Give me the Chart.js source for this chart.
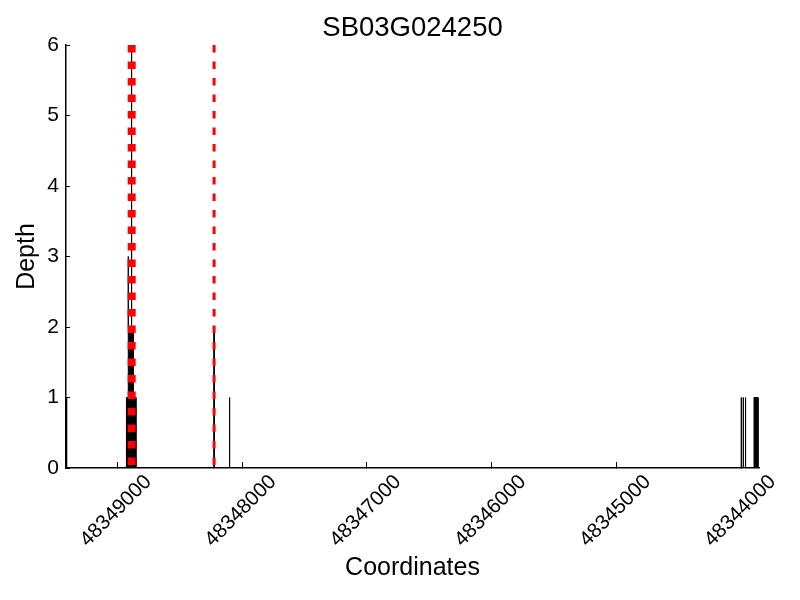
<!DOCTYPE html>
<html>
<head>
<meta charset="utf-8">
<script src="https://cdn.jsdelivr.net/npm/chart.js@4"></script>
<style>
  html, body { margin: 0; padding: 0; background: #fff; }
</style>
</head>
<body>
<canvas id="c" width="800" height="600"></canvas>
<script>
// ---- data ----
const chartTitle = "SB03G024250";
const xTitle = "Coordinates";
const yTitle = "Depth";
const xTickValues = [48349000, 48348000, 48347000, 48346000, 48345000, 48344000];
const yTickValues = [0, 1, 2, 3, 4, 5, 6];
const xRangeMax = 48349410;
const xRangeMin = 48343860;
// coverage runs: start coordinate, end coordinate, depth
const runStart = [48349410, 48348926, 48348912, 48348911, 48348886, 48348884, 48348872, 48348226, 48348101, 48344003, 48343987, 48343969, 48343900];
const runEnd   = [48349402, 48348912, 48348911, 48348886, 48348884, 48348872, 48348850, 48348222, 48348099, 48344001, 48343985, 48343967, 48343868];
const runDepth = [1, 1, 3, 2, 6, 2, 1, 2, 1, 1, 1, 1, 1];
// marker lines (coordinates) and their height
const markerThickPos = [48348884];
const markerThinPos = [48348224];
const markerHeight = 6;

// ---- build step profile from runs ----
const profile = [];
for (let i = 0; i < runStart.length; i++) {
  const contiguous = i > 0 && runEnd[i - 1] === runStart[i];
  if (!contiguous) profile.push({x: runStart[i], y: 0});
  profile.push({x: runStart[i], y: runDepth[i]});
  profile.push({x: runEnd[i], y: runDepth[i]});
  const nextContig = i < runStart.length - 1 && runStart[i + 1] === runEnd[i];
  if (!nextContig) profile.push({x: runEnd[i], y: 0});
}
const markerLine = (pos) => [{x: pos, y: markerHeight}, {x: pos, y: 0}];

Chart.defaults.color = '#000';
Chart.defaults.font.family = '"Liberation Sans", Arial, sans-serif';

const datasets = [];
markerThickPos.forEach(p => datasets.push({
  data: markerLine(p), showLine: true, pointRadius: 0, borderColor: '#ff0000',
  borderWidth: 8, borderDash: [7.5, 9], borderCapStyle: 'butt', fill: false
}));
markerThinPos.forEach(p => datasets.push({
  data: markerLine(p), showLine: true, pointRadius: 0, borderColor: '#ff0000',
  borderWidth: 3, borderDash: [7.5, 9], borderCapStyle: 'butt', fill: false
}));
datasets.push({
  data: profile, showLine: true, pointRadius: 0, borderColor: '#000',
  backgroundColor: '#000', borderWidth: 1, fill: 'origin', tension: 0
});

new Chart(document.getElementById('c'), {
  type: 'scatter',
  data: { datasets },
  options: {
    responsive: false,
    animation: false,
    events: [],
    layout: { padding: { left: 0, right: 41, top: 0, bottom: 0 } },
    plugins: {
      legend: { display: false },
      tooltip: { enabled: false },
      title: {
        display: true, text: chartTitle, fullSize: false,
        font: { size: 27.5, weight: 'normal' },
        padding: { top: 11.5, bottom: 0.5 }, color: '#000'
      }
    },
    scales: {
      x: {
        type: 'linear', reverse: true, min: xRangeMin, max: xRangeMax,
        afterBuildTicks: s => { s.ticks = xTickValues.map(v => ({value: v})); },
        afterFit: s => { s.height = 132; },
        border: { display: true, color: '#000', width: 1.5 },
        grid: { drawOnChartArea: false, drawTicks: true, tickLength: -6, color: '#000', lineWidth: 1 },
        ticks: {
          autoSkip: false, minRotation: 45, maxRotation: 45,
          labelOffset: 31, padding: 8,
          font: { size: 20.5 }, color: '#000',
          callback: v => String(v)
        },
        title: { display: true, text: xTitle, font: { size: 25 }, padding: { top: 0, bottom: 17 }, color: '#000' }
      },
      y: {
        min: 0, max: 6,
        afterBuildTicks: s => { s.ticks = yTickValues.map(v => ({value: v})); },
        afterFit: s => { s.width = 66; },
        border: { display: true, color: '#000', width: 1.5 },
        grid: { drawOnChartArea: false, drawTicks: true, tickLength: -4, color: '#000', lineWidth: 1 },
        ticks: { padding: 11, font: { size: 21 }, color: '#000' },
        title: { display: true, text: yTitle, font: { size: 25 }, padding: { top: 12, bottom: 0 }, color: '#000' }
      }
    }
  }
});
</script>
</body>
</html>
